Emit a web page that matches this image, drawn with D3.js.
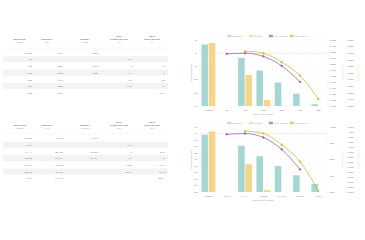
<!DOCTYPE html>
<html>
<head>
<meta charset="utf-8">
<title>Ballistics</title>
<script src="https://d3js.org/d3.v7.min.js"></script>
<style>
  html, body { margin: 0; padding: 0; background: #fff; }
  svg { display: block; font-family: Lato, "Open Sans", sans-serif; }
</style>
</head>
<body>
<svg width="365" height="240" viewBox="0 0 1460 960"></svg>
<script>
// imperial
var yards = ["Muzzle", "50", "100", "200", "300", "400", "500"];
var velocityFps = [3125, null, 2902, 2690, 2492, 2305, 2130];
var energyFtLbs = [3253, null, 2770, 2390, null, null, null];
var trajShortIn = [null, -0.5, 0, -2.4, -9.6, -21.8, null];
var trajLongIn = [null, null, 1.5, 0, -6.8, -17, -34.7];

// metric
var meters = ["Muzzle", "45.72", "91.44", "182.88", "274.32", "365.76", "457.2"];
var velocityMs = [952.5, null, 884.53, 819.91, 759.56, 702.56, 649.22];
var energyJ = [4410.5, null, 3755.6, 3240.4, null, null, null];
var trajShortCm = [null, -1.27, 0, -6.1, -24.38, -55.37, null];
var trajLongCm = [null, null, 3.81, 0, -17.27, -43.18, -88.14];

var teal = "#a6d6d3", gold = "#f4d58a", purple = "#a554a8", olive = "#b6c33c";

var svg = d3.select("svg");

function table(top, cols, rows) {
  var g = svg.append("g").attr("transform", "translate(0," + top + ")");
  var centers = [78, 188, 340, 476, 608],
      rights = [128, 252, 392, 528, 660],
      rowY = function(i) { return 68 + i * 26.8; };

  rows[0].forEach(function(_, i) {
    if (i % 2 == 1)
      g.append("rect").attr("x", 12).attr("y", rowY(i) - 13).attr("width", 660).attr("height", 24).attr("fill", "#f3f3f3");
  });

  cols.forEach(function(c, j) {
    var lines = c.title;
    lines.forEach(function(t, k) {
      g.append("text").attr("x", centers[j]).attr("y", 17 - (lines.length - 1 - k) * 12)
        .attr("text-anchor", "middle").attr("font-size", 10).attr("font-weight", 700)
        .attr("fill", "#666").text(t);
    });
    g.append("text").attr("x", centers[j]).attr("y", 30).attr("text-anchor", "middle")
      .attr("font-size", 8).attr("fill", "#999").text(c.unit);
  });
  g.append("line").attr("x1", 12).attr("x2", 672).attr("y1", 50).attr("y2", 50).attr("stroke", "#ddd");

  rows.forEach(function(col, j) {
    col.forEach(function(v, i) {
      if (v == null) return;
      g.append("text").attr("x", rights[j]).attr("y", rowY(i) + 4).attr("text-anchor", "end")
        .attr("font-size", 10).attr("fill", "#888").text(v);
    });
  });
}

table(143, [
  { title: ["DISTANCE"], unit: "(YARDS)" },
  { title: ["VELOCITY"], unit: "(FPS)" },
  { title: ["ENERGY"], unit: "(FT-LBS)" },
  { title: ["TRAJ", "SHORT RANGE"], unit: "(IN)" },
  { title: ["TRAJ", "LONG RANGE"], unit: "(IN)" }
], [yards, velocityFps, energyFtLbs, trajShortIn, trajLongIn]);

table(485, [
  { title: ["DISTANCE"], unit: "(METERS)" },
  { title: ["VELOCITY"], unit: "(M/S)" },
  { title: ["ENERGY"], unit: "(JOULES)" },
  { title: ["TRAJ", "SHORT RANGE"], unit: "(CM)" },
  { title: ["TRAJ", "LONG RANGE"], unit: "(CM)" }
], [meters, velocityMs, energyJ, trajShortCm, trajLongCm]);

function chart(o) {
  var g = svg.append("g");
  var x = d3.scaleBand().domain(o.cats).range([797, 1310]);
  var y = d3.scaleLinear().domain(o.trajDom).range([o.y1, o.y0]);
  var yv = d3.scaleLinear().domain(o.velDom).range([o.y1, o.y0]);
  var ye = d3.scaleLinear().domain(o.enDom).range([o.y1, o.y0]);
  var fmt = d3.format(",");

  // grid
  g.append("g").selectAll("line").data(y.ticks(o.trajTicks)).join("line")
    .attr("x1", 797).attr("x2", 1310).attr("y1", y).attr("y2", y)
    .attr("stroke", function(d) { return d == 0 ? "#c8c8c8" : "#eeeeee"; });
  g.append("g").selectAll("line").data(o.cats.concat([null])).join("line")
    .attr("x1", function(d) { return d == null ? 1310 : x(d); })
    .attr("x2", function(d) { return d == null ? 1310 : x(d); })
    .attr("y1", o.y0).attr("y2", o.y1 + 6).attr("stroke", "#f0f0f0");

  // left axis
  g.append("g").selectAll("text").data(y.ticks(o.trajTicks)).join("text")
    .attr("x", 788).attr("y", function(d) { return y(d) + 3.5; }).attr("text-anchor", "end")
    .attr("font-size", 10).attr("fill", "#888").text(function(d) { return d; });
  g.append("text").attr("transform", "translate(766," + (o.y0 + o.y1) / 2 + ")rotate(-90)")
    .attr("text-anchor", "middle").attr("font-size", 9).attr("fill", "#999").text(o.trajTitle);

  // right axes
  g.append("g").selectAll("text").data(d3.range(o.velDom[0], o.velDom[1] + 1, o.velStep)).join("text")
    .attr("x", 1318).attr("y", function(d) { return yv(d) + 3.5; })
    .attr("font-size", 10).attr("fill", "#888").text(fmt);
  g.append("text").attr("transform", "translate(1370," + (o.y0 + o.y1) / 2 + ")rotate(-90)")
    .attr("text-anchor", "middle").attr("font-size", 9).attr("fill", teal).text(o.velTitle);
  g.append("g").selectAll("text").data(d3.range(o.enDom[0], o.enDom[1] + 1, o.enStep)).join("text")
    .attr("x", 1388).attr("y", function(d) { return ye(d) + 3.5; })
    .attr("font-size", 10).attr("fill", "#888").text(fmt);
  g.append("text").attr("transform", "translate(1434," + (o.y0 + o.y1) / 2 + ")rotate(-90)")
    .attr("text-anchor", "middle").attr("font-size", 9).attr("fill", gold).text(o.enTitle);

  // bars
  var bw = x.bandwidth() * 0.8 / 2 * 0.9, off = x.bandwidth() * 0.1;
  o.cats.forEach(function(c, i) {
    var b0 = x(c) + off;
    if (o.vel[i] != null)
      g.append("rect").attr("x", b0 + x.bandwidth() * 0.02).attr("width", bw)
        .attr("y", yv(o.vel[i])).attr("height", o.y1 - yv(o.vel[i])).attr("fill", teal);
    if (o.en[i] != null)
      g.append("rect").attr("x", b0 + x.bandwidth() * 0.4 + x.bandwidth() * 0.02).attr("width", bw)
        .attr("y", ye(o.en[i])).attr("height", o.y1 - ye(o.en[i])).attr("fill", gold);
  });

  // lines
  [[o.shortT, purple], [o.longT, olive]].forEach(function(s) {
    var pts = o.cats.map(function(c, i) { return [x(c) + x.bandwidth() / 2, s[0][i]]; })
      .filter(function(p) { return p[1] != null; });
    g.append("path").attr("fill", "none").attr("stroke", s[1]).attr("stroke-width", 3)
      .attr("d", d3.line().x(function(p) { return p[0]; }).y(function(p) { return y(p[1]); })
        .curve(d3.curveMonotoneX)(pts));
    g.append("g").selectAll("circle").data(pts).join("circle")
      .attr("cx", function(p) { return p[0]; }).attr("cy", function(p) { return y(p[1]); })
      .attr("r", 4).attr("fill", s[1]).attr("stroke", s[1]);
  });

  // x labels
  g.append("g").selectAll("text").data(o.cats).join("text")
    .attr("x", function(d) { return x(d) + x.bandwidth() / 2; }).attr("y", o.y1 + 18)
    .attr("text-anchor", "middle").attr("font-size", 10).attr("fill", "#888").text(function(d) { return d; });
  g.append("text").attr("x", (797 + 1310) / 2).attr("y", o.y1 + 36).attr("text-anchor", "middle")
    .attr("font-size", 9).attr("fill", "#999").text(o.xTitle);

  // legend
  var items = [["VELOCITY", teal, 911], ["ENERGY", gold, 997], ["TRAJ. SHORT", purple, 1077], ["TRAJ. LONG", olive, 1160]];
  items.forEach(function(it) {
    g.append("rect").attr("x", it[2]).attr("y", o.y0 - 20).attr("width", 14).attr("height", 8)
      .attr("fill", it[1]).attr("fill-opacity", 0.6).attr("stroke", it[1]).attr("stroke-width", 1.5);
    g.append("text").attr("x", it[2] + 18).attr("y", o.y0 - 12.5).attr("font-size", 9)
      .attr("fill", "#999").text(it[0]);
  });
}

chart({
  cats: yards, y0: 160, y1: 424,
  trajDom: [-40, 10], trajTicks: 5, trajTitle: "TRAJECTORY (IN)",
  velDom: [2100, 3200], velStep: 100, velTitle: "VELOCITY (FPS)",
  enDom: [2300, 3300], enStep: 100, enTitle: "ENERGY (FT-LBS)",
  vel: velocityFps, en: energyFtLbs, shortT: trajShortIn, longT: trajLongIn,
  xTitle: "DISTANCE (YARDS)"
});

chart({
  cats: meters, y0: 508, y1: 768,
  trajDom: [-90, 10], trajTicks: 10, trajTitle: "TRAJECTORY (CM)",
  velDom: [600, 1000], velStep: 100, velTitle: "VELOCITY (M/S)",
  enDom: [3200, 4500], enStep: 100, enTitle: "ENERGY (JOULES)",
  vel: velocityMs, en: energyJ, shortT: trajShortCm, longT: trajLongCm,
  xTitle: "DISTANCE (METERS)"
});
</script>
</body>
</html>
